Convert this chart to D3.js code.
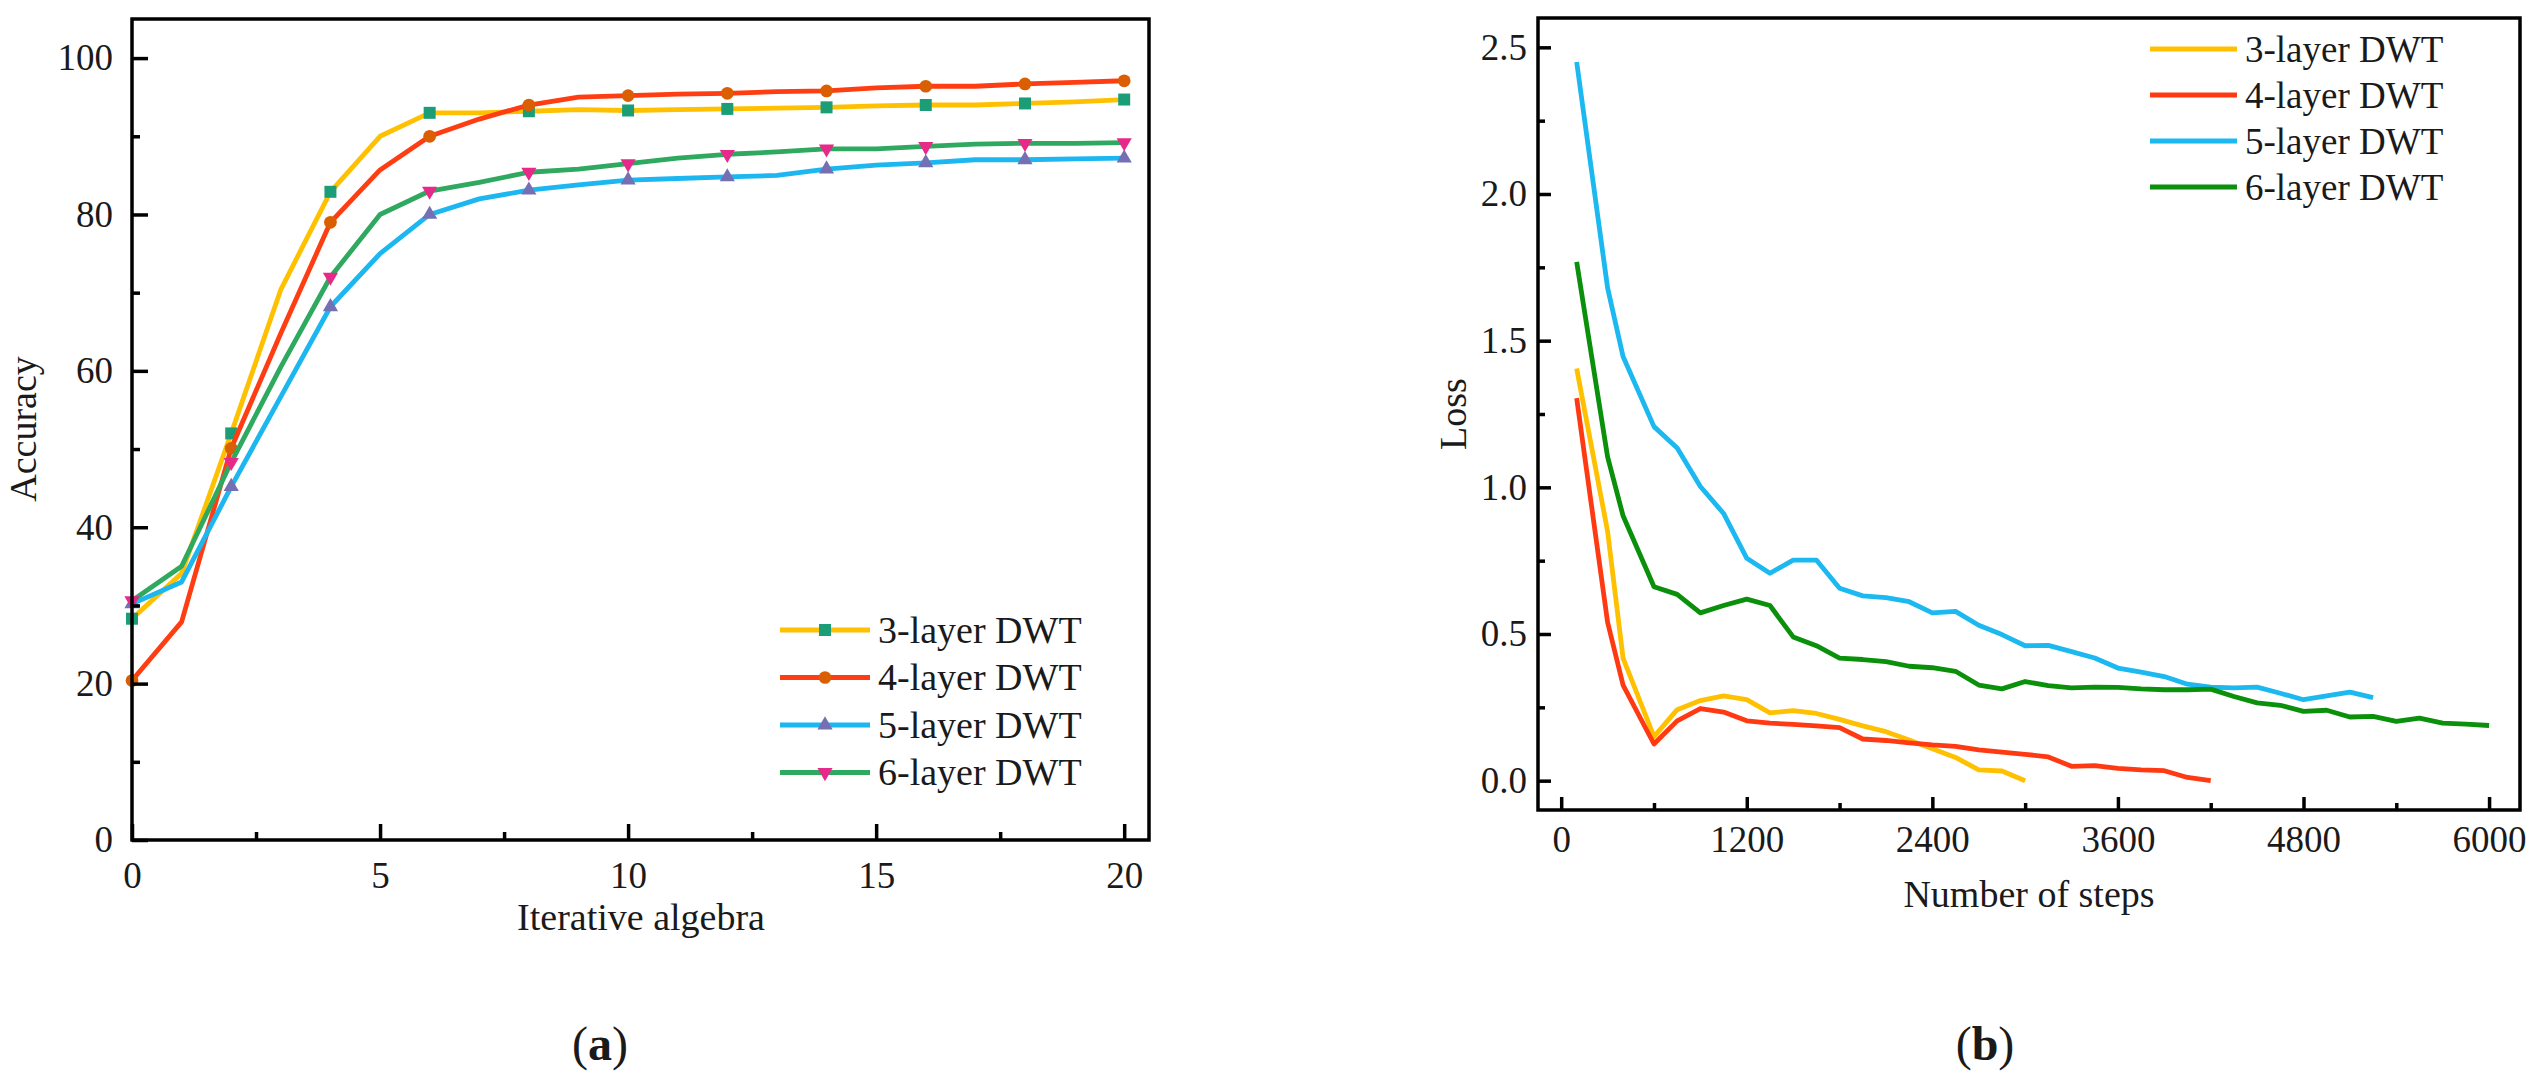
<!DOCTYPE html>
<html>
<head>
<meta charset="utf-8">
<script src="https://cdn.jsdelivr.net/npm/d3@7/dist/d3.min.js"></script>
<style>
body { margin: 0; background: #fff; }
text { font-family: "Liberation Serif", "Times New Roman", serif; fill: #1a1a1a; }
</style>
</head>
<body>
<svg id="chart" width="2541" height="1089"></svg>
<script>
// ---- panel (a) data ----
var iters = [0,1,2,3,4,5,6,7,8,9,10,11,12,13,14,15,16,17,18,19,20];
var markIters = [0,2,4,6,8,10,12,14,16,18,20];
var acc3 = [28.3,34.1,52,70.4,82.9,90,93,93,93.2,93.4,93.3,93.4,93.5,93.6,93.7,93.9,94.0,94.0,94.2,94.4,94.7];
var acc4 = [20.4,27.9,50.1,64.8,79,85.7,90,92.2,94,95,95.2,95.4,95.5,95.7,95.8,96.2,96.4,96.4,96.7,96.9,97.1];
var acc5 = [30.2,33,45.2,56.7,68.2,75,80,82,83.1,83.8,84.4,84.6,84.8,85,85.8,86.3,86.6,87,87,87.1,87.2];
var acc6 = [30.6,35,48.3,60.5,72,80,83,84.1,85.4,85.8,86.5,87.2,87.7,88,88.4,88.4,88.7,89,89.1,89.1,89.2];

// ---- panel (b) data ----
var steps = [100,300,400,600,750,900,1050,1200,1350,1500,1650,1800,1950,2100,2250,2400,2550,2700,2850,3000,
             3150,3300,3450,3600,3750,3900,4050,4200,4350,4500,4650,4800,4950,5100,5250,5400,5550,5700,5850,6000];
var loss3 = [1.405,0.85,0.418,0.150,0.242,0.273,0.289,0.276,0.231,0.239,0.229,0.209,0.187,0.167,0.139,0.109,0.079,0.037,0.033,0.000];
var loss4 = [1.304,0.54,0.326,0.125,0.204,0.246,0.234,0.204,0.196,0.192,0.187,0.181,0.142,0.137,0.129,0.122,0.117,0.105,0.097,0.090,
             0.081,0.049,0.051,0.042,0.037,0.034,0.011,0.000];
var loss5 = [2.45,1.68,1.446,1.207,1.134,1.003,0.911,0.758,0.707,0.752,0.752,0.656,0.630,0.624,0.610,0.572,0.577,0.530,0.498,0.460,
             0.461,0.440,0.418,0.384,0.370,0.355,0.329,0.319,0.316,0.319,0.298,0.276,0.289,0.302,0.283];
var loss6 = [1.769,1.104,0.903,0.661,0.635,0.572,0.597,0.619,0.597,0.490,0.460,0.418,0.413,0.406,0.390,0.385,0.373,0.326,0.313,0.338,
             0.324,0.316,0.319,0.318,0.313,0.310,0.310,0.312,0.287,0.265,0.257,0.236,0.240,0.217,0.219,0.202,0.213,0.196,0.193,0.188];

var names = ["3-layer DWT","4-layer DWT","5-layer DWT","6-layer DWT"];
var accTicksY = [0,20,40,60,80,100], accMinorY = [10,30,50,70,90];
var accTicksX = [0,5,10,15,20], accMinorX = [2.5,7.5,12.5,17.5];
var lossTicksY = [0,0.5,1,1.5,2,2.5], lossMinorY = [0.25,0.75,1.25,1.75,2.25];
var lossTicksX = [0,1200,2400,3600,4800,6000], lossMinorX = [600,1800,3000,4200,5400];

var svg = d3.select("#chart");

function frame(g, x, y, o) {
  var x0 = x.range()[0], x1 = x.range()[1], y0 = y.range()[0], y1 = y.range()[1];
  var ya = g.append("g").attr("transform", "translate(" + x0 + ",0)")
    .call(d3.axisLeft(y).tickValues(o.ty).tickFormat(o.fy).tickSizeInner(-o.major).tickSizeOuter(0).tickPadding(o.padY));
  var yb = g.append("g").attr("transform", "translate(" + x0 + ",0)")
    .call(d3.axisLeft(y).tickValues(o.my).tickFormat("").tickSizeInner(-o.minor).tickSizeOuter(0));
  var xa = g.append("g").attr("transform", "translate(0," + y0 + ")")
    .call(d3.axisBottom(x).tickValues(o.tx).tickFormat(o.fx).tickSizeInner(-o.major).tickSizeOuter(0).tickPadding(o.padX));
  var xb = g.append("g").attr("transform", "translate(0," + y0 + ")")
    .call(d3.axisBottom(x).tickValues(o.mx).tickFormat("").tickSizeInner(-o.minor).tickSizeOuter(0));
  [ya, yb, xa, xb].forEach(function(a) {
    a.select(".domain").remove();
    a.selectAll("line").attr("stroke", "#000").attr("stroke-width", 3.5);
    a.selectAll("text").attr("font-size", 37).attr("fill", "#1a1a1a")
      .attr("font-family", "Liberation Serif, Times New Roman, serif");
  });
  g.append("rect").attr("x", x0).attr("y", y1).attr("width", x1 - x0).attr("height", y0 - y1)
    .attr("fill", "none").attr("stroke", "#000").attr("stroke-width", 3.5);
}

// ================= panel (a) =================
var xa = d3.scaleLinear().domain([0, 20.5]).range([132, 1149]);
var ya = d3.scaleLinear().domain([0, 105]).range([840, 19]);
var gA = svg.append("g");

var accSeries = [acc3, acc4, acc5, acc6];
var accLine = ["#FFC000", "#FF3D12", "#1CB6F0", "#2FA860"];
var accMark = ["#1B9E77", "#D95F02", "#7570B3", "#E7298A"];
var accShape = [d3.symbolSquare, d3.symbolCircle, d3.symbolTriangle, d3.symbolTriangle];
var accSize = [144, 127, 100, 100];
var accRot = [0, 0, 0, 180];

var lineA = d3.line().x(function(d) { return xa(d[0]); }).y(function(d) { return ya(d[1]); });

accSeries.forEach(function(s, k) {
  var pts = iters.map(function(v, i) { return [v, s[i]]; });
  gA.append("path").datum(pts).attr("d", lineA).attr("fill", "none")
    .attr("stroke", accLine[k]).attr("stroke-width", 4.8).attr("stroke-linejoin", "round");
  var mk = pts.filter(function(d) { return markIters.indexOf(d[0]) >= 0; });
  gA.selectAll(".m" + k).data(mk).enter().append("path")
    .attr("d", d3.symbol().type(accShape[k]).size(accSize[k]))
    .attr("transform", function(d) { return "translate(" + xa(d[0]) + "," + ya(d[1]) + ") rotate(" + accRot[k] + ")"; })
    .attr("fill", accMark[k]);
});

frame(gA, xa, ya, { ty: accTicksY, my: accMinorY, tx: accTicksX, mx: accMinorX,
  fy: d3.format("d"), fx: d3.format("d"), major: 16, minor: 8, padY: 19, padX: 22 });

gA.append("text").attr("transform", "translate(36,429) rotate(-90)").attr("text-anchor", "middle")
  .attr("font-size", 38).text("Accuracy");
gA.append("text").attr("x", 641).attr("y", 930).attr("text-anchor", "middle")
  .attr("font-size", 38).text("Iterative algebra");

// legend (a)
var legA = gA.append("g");
names.forEach(function(n, k) {
  var yy = 630 + k * 47.5;
  legA.append("line").attr("x1", 780).attr("x2", 870).attr("y1", yy).attr("y2", yy)
    .attr("stroke", accLine[k]).attr("stroke-width", 4.8);
  legA.append("path").attr("d", d3.symbol().type(accShape[k]).size(accSize[k]))
    .attr("transform", "translate(825," + yy + ") rotate(" + accRot[k] + ")").attr("fill", accMark[k]);
  legA.append("text").attr("x", 878).attr("y", yy).attr("dy", "0.34em").attr("font-size", 38).text(n);
});

var capA = svg.append("text").attr("x", 600).attr("y", 1060).attr("text-anchor", "middle").attr("font-size", 48);
capA.append("tspan").text("(");
capA.append("tspan").attr("font-weight", "bold").text("a");
capA.append("tspan").text(")");

// ================= panel (b) =================
var xb = d3.scaleLinear().domain([-150, 6200]).range([1538, 2520]);
var yb = d3.scaleLinear().domain([-0.1, 2.6]).range([810, 18]);
var gB = svg.append("g");

var lossSeries = [loss3, loss4, loss5, loss6];
var lossLine = ["#FFC000", "#FF3A12", "#1CB8F0", "#0A900A"];
var lineB = d3.line().x(function(d) { return xb(d[0]); }).y(function(d) { return yb(d[1]); });

lossSeries.forEach(function(s, k) {
  var pts = s.map(function(v, i) { return [steps[i], v]; });
  gB.append("path").datum(pts).attr("d", lineB).attr("fill", "none")
    .attr("stroke", lossLine[k]).attr("stroke-width", 4.8).attr("stroke-linejoin", "round");
});

frame(gB, xb, yb, { ty: lossTicksY, my: lossMinorY, tx: lossTicksX, mx: lossMinorX,
  fy: d3.format(".1f"), fx: d3.format("d"), major: 13, minor: 7, padY: 11, padX: 16 });

gB.append("text").attr("transform", "translate(1466,414) rotate(-90)").attr("text-anchor", "middle")
  .attr("font-size", 38).text("Loss");
gB.append("text").attr("x", 2029).attr("y", 907).attr("text-anchor", "middle")
  .attr("font-size", 38).text("Number of steps");

var legB = gB.append("g");
names.forEach(function(n, k) {
  var yy = 49 + k * 46;
  legB.append("line").attr("x1", 2150).attr("x2", 2237).attr("y1", yy).attr("y2", yy)
    .attr("stroke", lossLine[k]).attr("stroke-width", 4.8);
  legB.append("text").attr("x", 2245).attr("y", yy).attr("dy", "0.34em").attr("font-size", 37).text(n);
});

var capB = svg.append("text").attr("x", 1985).attr("y", 1060).attr("text-anchor", "middle").attr("font-size", 48);
capB.append("tspan").text("(");
capB.append("tspan").attr("font-weight", "bold").text("b");
capB.append("tspan").text(")");
</script>
</body>
</html>
